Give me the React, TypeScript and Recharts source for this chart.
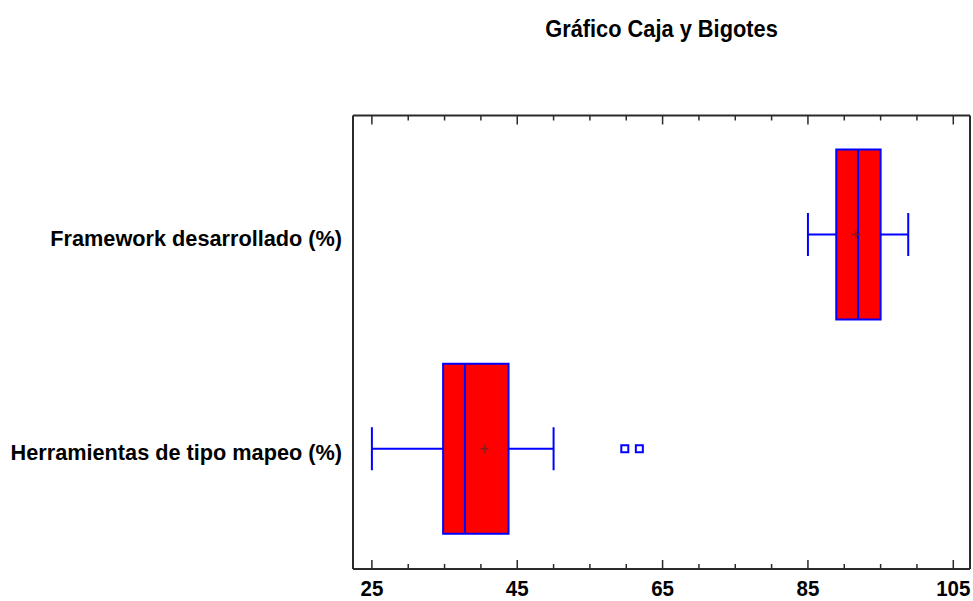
import React from "react"
import {
  ComposedChart,
  Bar,
  XAxis,
  YAxis,
} from "recharts"

// values (percent)
const categories = ["Framework desarrollado (%)", "Herramientas de tipo mapeo (%)"]
const whiskerLow = [85, 25]
const quartile1 = [88.9, 34.8]
const medians = [91.9, 37.8]
const means = [91.6, 40.5]
const quartile3 = [95, 43.8]
const whiskerHigh = [98.8, 50]
const outliers: number[][] = [[], [59.8, 61.8]]

const xTicks = [25, 30, 35, 40, 45, 50, 55, 60, 65, 70, 75, 80, 85, 90, 95, 100, 105]
const labelTicks = [25, 45, 65, 85, 105]

const FONT = "'Liberation Sans', Arial, sans-serif"
const BOX_FILL = "#ff0000"
const BLUE = "#0000ff"
const FRAME = "#2a2a2a"

const data = categories.map((name, i) => ({
  name,
  range: [whiskerLow[i], whiskerHigh[i]],
  q1: quartile1[i],
  median: medians[i],
  mean: means[i],
  q3: quartile3[i],
  outliers: outliers[i],
}))

// draws whiskers, box, median, mean and outliers inside the bar's band
const BoxShape = (props: any) => {
  const { x, y, width, height, payload } = props
  const [lo, hi] = payload.range
  const px = (v: number) => x + ((v - lo) / (hi - lo)) * width
  const cy = y + height / 2
  const cap = 21.5
  const bx1 = px(payload.q1)
  const bx2 = px(payload.q3)
  const mx = px(payload.median)
  const ax = px(payload.mean)
  return (
    <g>
      <line x1={x} x2={bx1} y1={cy} y2={cy} stroke={BLUE} strokeWidth={2} />
      <line x1={bx2} x2={x + width} y1={cy} y2={cy} stroke={BLUE} strokeWidth={2} />
      <line x1={x} x2={x} y1={cy - cap} y2={cy + cap} stroke={BLUE} strokeWidth={2} />
      <line x1={x + width} x2={x + width} y1={cy - cap} y2={cy + cap} stroke={BLUE} strokeWidth={2} />
      <rect x={bx1} y={y} width={bx2 - bx1} height={height} fill={BOX_FILL} stroke={BLUE} strokeWidth={2} />
      <line x1={mx} x2={mx} y1={y} y2={y + height} stroke={BLUE} strokeWidth={2} />
      <line x1={ax - 4} x2={ax + 4} y1={cy} y2={cy} stroke="#8b1a1a" strokeWidth={1.5} />
      <line x1={ax} x2={ax} y1={cy - 4} y2={cy + 4} stroke="#8b1a1a" strokeWidth={1.5} />
      {payload.outliers.map((o: number, k: number) => (
        <rect key={k} x={px(o) - 3.5} y={cy - 3.5} width={7} height={7} fill="#fff" stroke={BLUE} strokeWidth={2} />
      ))}
    </g>
  )
}

const BottomTick = (props: any) => {
  const { x, y, payload } = props
  const major = labelTicks.includes(payload.value)
  return (
    <g>
      <line x1={x} x2={x} y1={y} y2={y - (major ? 9 : 5)} stroke={FRAME} strokeWidth={1.5} />
      {major && (
        <text
          transform={`translate(${x},${y + 27}) scale(1,1.1)`}
          textAnchor="middle"
          fontFamily={FONT}
          fontWeight="bold"
          fontSize={20.5}
          fill="#000"
        >
          {payload.value}
        </text>
      )}
    </g>
  )
}

const TopTick = (props: any) => {
  const { x, y, payload } = props
  const major = labelTicks.includes(payload.value)
  return <line x1={x} x2={x} y1={y} y2={y + (major ? 9 : 5)} stroke={FRAME} strokeWidth={1.5} />
}

const CategoryTick = (props: any) => {
  const { x, y, payload } = props
  return (
    <text x={x - 11} y={y + 11} textAnchor="end" fontFamily={FONT} fontWeight="bold" fontSize={21.7} fill="#000">
      {payload.value}
    </text>
  )
}

export default function App() {
  return (
    <div style={{ position: "absolute", left: 0, top: 0, width: 973, height: 601, background: "#fff" }}>
      <svg width={973} height={60} style={{ position: "absolute", left: 0, top: 0 }}>
        <text
          transform="translate(661.5,37) scale(1,1.06)"
          textAnchor="middle"
          fontFamily={FONT}
          fontWeight="bold"
          fontSize={21.8}
          fill="#000"
        >
          Gráfico Caja y Bigotes
        </text>
      </svg>
      <ComposedChart
        width={973}
        height={601}
        data={data}
        layout="vertical"
        margin={{ top: 100, right: 0, bottom: 0, left: 0 }}
        barSize={170}
      >
        <XAxis
          type="number"
          domain={[22.4, 107.3]}
          ticks={xTicks}
          allowDataOverflow
          height={32}
          tickSize={0}
          tickMargin={0}
          axisLine={{ stroke: FRAME, strokeWidth: 2 }}
          tick={<BottomTick />}
          interval={0}
        />
        <XAxis
          xAxisId="top"
          orientation="top"
          type="number"
          domain={[22.4, 107.3]}
          ticks={xTicks}
          allowDataOverflow
          height={15.5}
          tickSize={0}
          tickMargin={0}
          axisLine={{ stroke: FRAME, strokeWidth: 2 }}
          tick={<TopTick />}
          interval={0}
        />
        <YAxis
          type="category"
          dataKey="name"
          width={353}
          padding={{ top: 12, bottom: 13 }}
          tickLine={false}
          tickSize={0}
          tickMargin={0}
          axisLine={{ stroke: FRAME, strokeWidth: 2 }}
          tick={<CategoryTick />}
          interval={0}
        />
        <YAxis
          yAxisId="right"
          orientation="right"
          type="category"
          dataKey="name"
          width={3}
          tick={false}
          tickLine={false}
          axisLine={{ stroke: FRAME, strokeWidth: 2 }}
        />
        <Bar dataKey="range" shape={<BoxShape />} isAnimationActive={false} />
      </ComposedChart>
    </div>
  )
}
